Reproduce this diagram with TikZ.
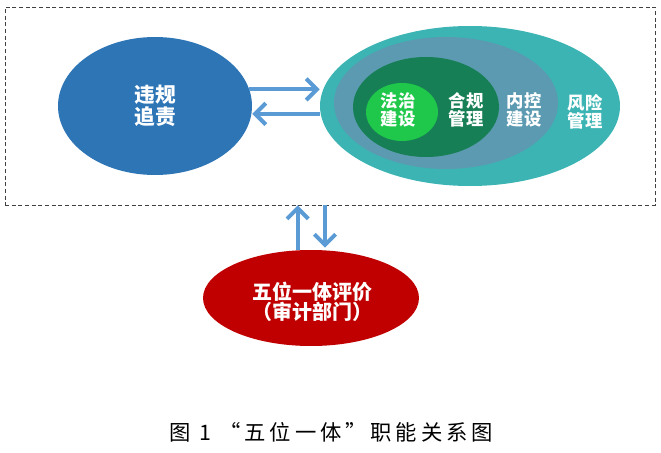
\documentclass[tikz,border=0pt]{standalone}
\usepackage{fontspec}
\setmainfont{Noto Sans CJK SC}
\newfontfamily\captionfont{Noto Sans CJK SC}[LetterSpace=18]
\usepackage{tikz}
\usetikzlibrary{shapes.geometric, arrows, arrows.meta}
\usetikzlibrary{positioning, fit, calc}
\definecolor{zgblue}{HTML}{2E75B6}
\definecolor{fxteal}{HTML}{3CB4B4}
\definecolor{nkgray}{HTML}{5B9AB0}
\definecolor{hgdark}{HTML}{177F55}
\definecolor{fzgreen}{HTML}{1FC84A}
\definecolor{pjred}{HTML}{C00000}
\definecolor{flowblue}{HTML}{5B9BD5}
\tikzstyle{part} = [ellipse, inner sep=0pt, draw=none]
\tikzstyle{label} = [text=white, font=\bfseries\fontsize{13}{13.5}\selectfont, align=center]
\tikzstyle{flow} = [draw=flowblue, line width=3pt, -{Straight Barb[length=8pt,width=16pt]}]

\begin{document}
\begin{tikzpicture}[x=0.75pt, y=-0.75pt]
            \tikzstyle{biglabel} = [label, font=\bfseries\fontsize{15.5}{16.5}\selectfont]
            \tikzstyle{frame} = [rectangle, draw=black!75, dash pattern=on 3pt off 2pt, line width=0.6pt]

            \useasboundingbox (0,0) rectangle (661,453);

            \node[frame, minimum width=487.5pt, minimum height=148.5pt] (frame) at (330,106) {};

            \node[part, fill=zgblue, minimum width=145.5pt, minimum height=103.5pt] (zg) at (155,106) {};
            \node[biglabel] (zgText) at (zg.center) {违规\\追责};

            \node[part, fill=fxteal, minimum width=225pt, minimum height=120pt] (fx) at (470,106) {};
            \node[part, fill=nkgray, minimum width=168pt, minimum height=99pt] (nk) at (446,103) {};
            \node[part, fill=hgdark, minimum width=109.5pt, minimum height=75pt] (hg) at (426,107) {};
            \node[part, fill=fzgreen, minimum width=54pt, minimum height=43.5pt] (fz) at (402,112) {};

            \node[label] (fzText) at (398,110) {法治\\建设};
            \node[label] (hgText) at (466,110) {合规\\管理};
            \node[label] (nkText) at (524,110) {内控\\建设};
            \node[label] (fxText) at (585,112) {风险\\管理};

            \node[part, fill=pjred, minimum width=162pt, minimum height=72pt] (pj) at (311,298) {};
            \node[biglabel, font=\bfseries\fontsize{15}{15}\selectfont] (pjText) at (312,302) {五位一体评价\\（审计部门）};

            \node[font=\captionfont\fontsize{16}{17}\selectfont] (caption) at (331,432) {图 1 “五位一体”职能关系图};

            \draw[flow] (zg.10) -- (zg.10 -| fx.west);
            \draw[flow] (fx.183) -- (fx.183 -| zg.east);

            \draw[flow] ([xshift=-10pt]pj.north) -- ([xshift=-10pt]pj.north |- frame.south);
            \draw[flow] ([xshift=10.5pt]pj.north |- frame.south) -- ([xshift=10.5pt, yshift=1.5pt]pj.north);

        \end{tikzpicture}
\end{document}
